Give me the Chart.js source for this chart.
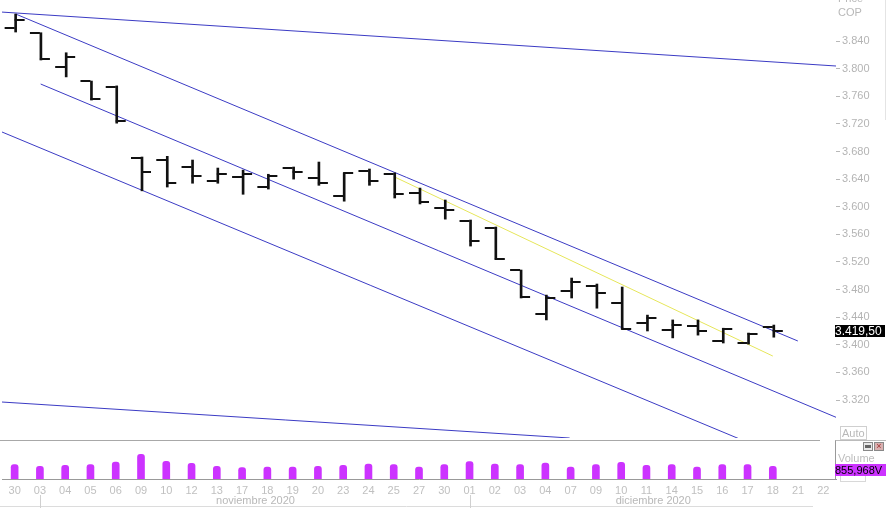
<!DOCTYPE html>
<html><head><meta charset="utf-8">
<script src="https://cdn.jsdelivr.net/npm/chart.js@4.4.1/dist/chart.umd.min.js"></script>
<style>
html,body{margin:0;padding:0;background:#fff;width:886px;height:508px;overflow:hidden;font-family:"Liberation Sans",Arial,sans-serif;}
#wrap{position:relative;width:886px;height:508px;}
canvas{position:absolute;left:0;}
.t{position:absolute;font-size:11px;color:#b8b8b8;white-space:nowrap;line-height:13px;}
</style></head><body>
<div id="wrap">
<canvas id="price" width="886" height="440" style="top:0"></canvas>
<canvas id="vol" width="886" height="68" style="top:440px"></canvas>
<div class="t" style="left:838px;top:-8px;">Price</div>
<div class="t" style="left:838px;top:6px;">COP</div>
<div style="position:absolute;left:885px;top:0;width:1px;height:120px;background:#e4e4e4;"></div>
<div class="t" style="left:840px;top:426px;width:24px;height:12px;border:1px solid #cfcfcf;line-height:12px;padding-left:1px;">Auto</div>
<div style="position:absolute;left:835px;top:440px;width:51px;height:39px;border-left:1px solid #999;border-top:1px solid #bbb;"></div>
<div style="position:absolute;left:840px;top:476px;width:24px;height:5px;border:1px solid #d8d8d8;border-top:none;"></div>
<div style="position:absolute;left:863px;top:442px;width:8px;height:7px;border:1px solid #888;background:#e8e8e8;"><div style="position:absolute;left:1px;top:2px;width:6px;height:3px;background:#666;"></div></div>
<div style="position:absolute;left:874px;top:442px;width:8px;height:7px;border:1px solid #888;background:#d8b0b0;font-size:9px;line-height:7px;color:#a03030;text-align:center;overflow:hidden;">×</div>
<div class="t" style="left:838px;top:452px;color:#bdbdbd;">Volume</div>
<div class="t" style="left:835px;top:464px;width:51px;height:12px;line-height:12px;background:#cc33ff;color:#000;overflow:hidden;">855,968V</div>
</div>
<script>
const labels = ['30','03','04','05','06','09','10','12','13','17','18','19','20','23','24','25','27','30','01','02','03','04','07','09','10','11','14','15','16','17','18','21','22'];
const monthStarts = [1, 18];
const monthNames = ['noviembre 2020', 'diciembre 2020'];
const openV  = [3859,3851.6,3802,3782,3773,3670.5,3667.6,3657.5,3637,3643,3628.5,3656,3641,3615.5,3651.7,3647.4,3620,3598,3579,3569,3508.3,3444.6,3478,3485,3460.5,3431.5,3421.4,3427,3405.5,3402.6,3425.7];
const highV  = [3879,3852,3823,3782,3775,3672,3673,3667.6,3656,3653,3647,3657.5,3664.7,3649,3654.6,3649,3627,3609.7,3580.7,3570.6,3508.3,3472,3496.7,3488,3483.7,3443,3436,3436,3424,3417,3428.6];
const lowV   = [3853,3812.5,3788,3754.5,3721,3623,3628.5,3634,3634,3618,3625.6,3640,3631,3608,3631,3612.6,3604,3582,3543,3523.6,3467.8,3436,3467.8,3453,3422.8,3420,3410,3414,3402.6,3401,3411];
const closeV = [3870,3814,3817,3756,3724,3650,3634,3644.5,3647,3647.4,3644.5,3650,3634,3649,3637,3619,3607,3595,3550,3524,3469,3467.8,3491,3475,3423,3438.8,3428.6,3420,3423,3415.6,3419.5];
const volumeV = [971000,856000,924000,971000,1155000,1671000,1196000,1060000,856000,768000,815000,815000,856000,924000,1019000,971000,815000,971000,1175000,1019000,971000,1087000,815000,971000,1128000,924000,971000,815000,971000,971000,855968];
const priceTicks = [3840,3800,3760,3720,3680,3640,3600,3560,3520,3480,3440,3400,3360,3320];
const lineTop    = [{x:-0.5,y:3881.9},{x:32.5,y:3803.8}];
const lineUpper  = [{x:0.04,y:3879.1},{x:30.99,y:3405.5}];
const lineMiddle = [{x:1.03,y:3777.7},{x:32.5,y:3295}];
const lineLower  = [{x:-0.5,y:3708.2},{x:28.69,y:3263.5}];
const lineBottom = [{x:-0.5,y:3317.1},{x:21.96,y:3265}];
const lineYellow = [{x:15.04,y:3643},{x:30,y:3383.7}];

const FONT = 'Liberation Sans';
const fmt = v => { const s = Math.round(v).toString(); return s.slice(0,-3) + '.' + s.slice(-3); };
const fmtLast = v => { const s = v.toFixed(2); const [a,b] = s.split('.'); return a.slice(0,-3)+'.'+a.slice(-3)+','+b; };

const ohlcPlugin = {
  id: 'ohlc',
  afterDatasetsDraw(chart) {
    const {ctx, scales: {x, y}} = chart;
    ctx.save();
    ctx.strokeStyle = '#111';
    ctx.lineWidth = 2;
    openV.forEach((o, i) => {
      const px = x.getPixelForValue(i);
      const yo = Math.round(y.getPixelForValue(o));
      const yc = Math.round(y.getPixelForValue(closeV[i]));
      ctx.beginPath();
      ctx.moveTo(px - 10, yo); ctx.lineTo(px, yo);
      ctx.moveTo(px, yc); ctx.lineTo(px + 10, yc);
      ctx.stroke();
    });
    ctx.restore();
  },
  afterDraw(chart) {
    const {ctx, chartArea, scales: {y}} = chart;
    const last = closeV[closeV.length - 1];
    const yy = Math.round(y.getPixelForValue(last));
    ctx.save();
    ctx.fillStyle = '#000';
    ctx.fillRect(chartArea.right - 1, yy - 6, 50, 12);
    ctx.fillStyle = '#fff';
    ctx.font = '12px "' + FONT + '"';
    ctx.textBaseline = 'middle';
    ctx.textAlign = 'left';
    ctx.fillText(fmtLast(last), chartArea.right - 1, yy + 0.5);
    ctx.restore();
  }
};

const lineDs = (data, color) => ({type:'line', xAxisID:'xl', yAxisID:'y', data, borderColor:color, borderWidth:1, pointRadius:0, tension:0, order:2});

new Chart(document.getElementById('price'), {
  type: 'bar',
  data: {
    labels,
    datasets: [
      lineDs(lineTop, '#3b3bc4'),
      lineDs(lineUpper, '#3b3bc4'),
      lineDs(lineMiddle, '#3b3bc4'),
      lineDs(lineLower, '#3b3bc4'),
      lineDs(lineBottom, '#3b3bc4'),
      lineDs(lineYellow, '#e6e65a'),
      {type:'bar', xAxisID:'x', yAxisID:'y', data: lowV.map((l, i) => [l, highV[i]]), backgroundColor:'#111', barThickness:2, order:1}
    ]
  },
  options: {
    responsive: false, animation: false, events: [],
    layout: {padding: {left: 2, right: 0, top: 0, bottom: 2}},
    plugins: {legend: {display: false}, tooltip: {enabled: false}},
    scales: {
      x: {type:'category', display:false, offset:true},
      xl: {type:'linear', axis:'x', display:false, offset:false, min:-0.5, max:32.5},
      y: {
        position:'right', min:3265, max:3899.4,
        afterBuildTicks: a => { a.ticks = priceTicks.map(v => ({value: v})); },
        afterFit: a => { a.width = 50; a.paddingTop = 0; a.paddingBottom = 0; },
        grid: {drawOnChartArea:false, tickLength:4, tickColor:'#b8b8b8'},
        border: {display:false},
        ticks: {padding:2, color:'#b4b4b4', font:{family:FONT, size:11}, callback: v => fmt(v)}
      }
    }
  },
  plugins: [ohlcPlugin]
});

const monthPlugin = {
  id: 'months',
  afterDraw(chart) {
    const {ctx, chartArea, scales: {x}} = chart;
    ctx.save();
    ctx.strokeStyle = '#a8a8a8';
    ctx.lineWidth = 1;
    ctx.beginPath(); ctx.moveTo(0, 0.5); ctx.lineTo(820, 0.5); ctx.stroke();
    ctx.strokeStyle = '#dcdcdc';
    ctx.beginPath(); ctx.moveTo(0, 66.5); ctx.lineTo(813, 66.5); ctx.stroke();
    const seps = monthStarts.map(i => Math.round(x.getPixelForValue(i)) + 0.5);
    ctx.strokeStyle = '#d0d0d0';
    seps.forEach(sx => { ctx.beginPath(); ctx.moveTo(sx, 55); ctx.lineTo(sx, 68); ctx.stroke(); });
    ctx.fillStyle = '#b8b8b8';
    ctx.font = '11px "' + FONT + '"';
    ctx.textAlign = 'center';
    ctx.textBaseline = 'middle';
    seps.forEach((sx, k) => {
      const ex = k + 1 < seps.length ? seps[k + 1] : chartArea.right;
      ctx.fillText(monthNames[k], (sx + ex) / 2, 61);
    });
    ctx.restore();
  }
};

new Chart(document.getElementById('vol'), {
  type: 'bar',
  data: {labels, datasets: [{data: volumeV, backgroundColor:'#cc33ff', barThickness:7, borderRadius:3, borderSkipped:'start'}]},
  options: {
    responsive: false, animation: false, events: [],
    layout: {padding: {left: 2, right: 50, top: 1, bottom: 0}},
    plugins: {legend: {display: false}, tooltip: {enabled: false}},
    scales: {
      x: {
        offset: true,
        afterFit: a => { a.height = 29; },
        grid: {display:true, drawOnChartArea:false, drawTicks:false, color:'rgba(0,0,0,0)'},
        border: {display:true, color:'#999', width:1},
        ticks: {color:'#c0c0c0', font:{family:FONT, size:11}, padding:5, autoSkip:false, maxRotation:0}
      },
      y: {display:false, min:0, max:2580000}
    }
  },
  plugins: [monthPlugin]
});
</script>
</body></html>
